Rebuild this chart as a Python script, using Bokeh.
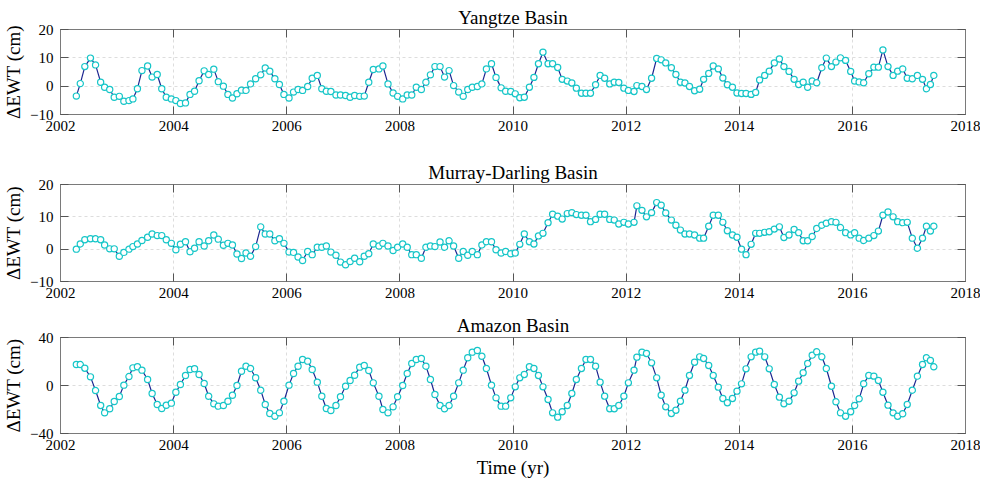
from bokeh.plotting import figure
from bokeh.layouts import column
from bokeh.models import LinearAxis, FixedTicker, Range1d
from bokeh.embed import file_html
from bokeh.resources import INLINE

# ---------------- data ----------------
time_yr = [
    2002.28, 2002.35, 2002.43, 2002.53, 2002.62, 2002.71, 2002.78, 2002.87, 2002.95, 2003.04,
    2003.12, 2003.21, 2003.28, 2003.36, 2003.44, 2003.54, 2003.62, 2003.71, 2003.79, 2003.87,
    2003.96, 2004.04, 2004.12, 2004.21, 2004.29, 2004.37, 2004.45, 2004.54, 2004.62, 2004.71,
    2004.79, 2004.88, 2004.96, 2005.04, 2005.12, 2005.20, 2005.28, 2005.36, 2005.45, 2005.54,
    2005.62, 2005.70, 2005.79, 2005.87, 2005.95, 2006.04, 2006.12, 2006.20, 2006.28, 2006.37,
    2006.45, 2006.54, 2006.62, 2006.70, 2006.78, 2006.87, 2006.95, 2007.04, 2007.12, 2007.20,
    2007.29, 2007.37, 2007.45, 2007.53, 2007.63,
    2007.70, 2007.79, 2007.88, 2007.96, 2008.05, 2008.13, 2008.21, 2008.29, 2008.38, 2008.46,
    2008.54, 2008.62, 2008.71, 2008.79, 2008.87, 2008.95, 2009.04, 2009.12, 2009.20, 2009.28,
    2009.37, 2009.45, 2009.53, 2009.62, 2009.70, 2009.79, 2009.87, 2009.96, 2010.04, 2010.12,
    2010.20, 2010.29, 2010.37, 2010.45, 2010.53, 2010.62, 2010.70, 2010.79, 2010.87, 2010.96,
    2011.04, 2011.12, 2011.21, 2011.29, 2011.37, 2011.46, 2011.54, 2011.62, 2011.71, 2011.79,
    2011.87, 2011.96, 2012.04, 2012.14, 2012.19, 2012.28, 2012.36, 2012.45, 2012.54, 2012.62,
    2012.70, 2012.80, 2012.88, 2012.96, 2013.04, 2013.12,
    2013.21, 2013.30, 2013.37, 2013.46, 2013.54, 2013.63, 2013.71, 2013.79, 2013.88, 2013.96,
    2014.04, 2014.12, 2014.21, 2014.29, 2014.36, 2014.45, 2014.53, 2014.62, 2014.71, 2014.79,
    2014.88, 2014.97, 2015.05, 2015.13, 2015.21, 2015.29, 2015.37, 2015.46, 2015.54, 2015.63,
    2015.71, 2015.79, 2015.88, 2015.97, 2016.04, 2016.12, 2016.20, 2016.29, 2016.38, 2016.46,
    2016.54, 2016.63, 2016.72, 2016.80, 2016.89, 2016.97, 2017.06, 2017.15, 2017.24, 2017.31,
    2017.38, 2017.44,
]

yangtze_cm = [
    -3.5, 0.9, 6.9, 9.9, 7.5, 1.4, -0.4, -1.2, -3.9, -3.6,
    -5.3, -5.1, -4.5, -0.9, 5.5, 7.1, 3.2, 4.1, -0.9, -3.9,
    -4.5, -5.1, -6.1, -5.9, -2.9, -1.8, 1.9, 5.4, 4.1, 6.0,
    1.6, 0.0, -2.9, -4.2, -2.7, -1.4, -1.5, 0.8, 2.6, 4.0,
    6.4, 5.3, 2.6, 0.6, -2.9, -4.2, -2.1, -1.2, -1.5, -0.1,
    2.8, 3.8, -0.9, -1.8, -1.9, -3.1, -3.1, -3.3, -3.9, -3.3,
    -3.6, -3.5, 1.4, 5.9, 6.1,
    7.1, 0.8, -2.4, -3.6, -4.5, -3.1, -3.1, -0.4, -1.2, 1.4,
    4.0, 6.9, 6.9, 3.2, 5.5, 0.2, -2.1, -3.6, -1.2, -0.4,
    -0.1, 0.8, 6.1, 7.9, 3.1, -0.6, -1.8, -1.9, -2.7, -4.1,
    -3.9, -0.4, 3.1, 7.9, 12.0, 7.9, 7.9, 6.6, 2.4, 1.8,
    1.1, -0.7, -2.5, -2.5, -2.5, 0.5, 3.8, 2.8, 0.8, 1.4,
    1.3, -0.7, -1.5, -1.9, 0.2, -0.1, -1.2, 2.8, 9.8, 9.3,
    8.2, 6.5, 4.1, 1.4, 1.1, -0.1,
    -1.6, -1.1, 2.4, 4.5, 7.1, 6.1, 2.9, 0.5, -0.4, -2.4,
    -2.6, -2.6, -2.9, -2.2, 2.2, 3.8, 5.3, 8.2, 9.6, 6.9,
    5.2, 2.4, 0.6, 1.4, -0.4, 1.8, 1.2, 6.5, 9.9, 6.9,
    8.5, 10.0, 9.1, 5.2, 1.8, 1.5, 1.2, 4.4, 6.7, 6.7,
    12.8, 6.9, 3.8, 5.3, 6.1, 2.8, 2.6, 3.8, 2.4, -0.9,
    0.6, 3.8,
]

murray_darling_cm = [
    0.0, 1.6, 2.9, 3.2, 3.2, 2.9, 1.3, 0.1, 0.1, -2.2,
    -1.0, 0.0, 0.8, 1.6, 2.7, 3.7, 4.7, 4.2, 4.2, 2.9,
    1.8, -0.2, 1.5, 2.3, -0.8, 0.3, 2.3, 1.0, 2.6, 4.4,
    3.1, 1.2, 1.8, 1.3, -1.5, -2.9, -1.2, -2.2, 0.8, 6.9,
    4.7, 4.7, 2.6, 3.2, 1.8, -0.9, -1.0, -2.4, -3.5, -0.7,
    -1.7, 0.6, 0.6, 1.0, -0.9, -1.9, -4.0, -4.8, -3.8, -2.8,
    -3.9, -2.2, -1.4, 1.6, 1.0,
    1.8, 1.0, -0.4, 0.6, 1.6, 0.6, -1.7, -1.7, -2.8, 0.6,
    1.0, 0.8, 2.2, 0.6, 2.6, 1.0, -2.8, -0.7, -1.9, -0.7,
    -1.7, 1.3, 2.3, 2.3, -0.2, -1.2, -0.7, -1.4, -1.2, 1.5,
    4.7, 2.3, 1.6, 4.1, 4.9, 8.2, 10.8, 10.2, 9.3, 11.0,
    11.3, 10.7, 10.5, 10.5, 8.5, 9.2, 10.8, 10.8, 9.2, 9.0,
    7.8, 8.3, 7.8, 8.3, 13.4, 12.0, 10.0, 11.3, 14.4, 13.6,
    11.2, 9.0, 7.4, 5.9, 4.7, 4.7,
    4.4, 3.4, 3.4, 7.1, 10.5, 10.5, 8.3, 5.7, 4.4, 3.7,
    0.0, -1.7, 1.5, 4.9, 4.9, 5.2, 5.4, 6.2, 6.9, 3.6,
    4.4, 6.1, 5.1, 2.6, 2.6, 3.9, 6.4, 7.4, 8.0, 8.5,
    8.3, 6.7, 5.1, 4.4, 5.1, 3.4, 2.7, 3.4, 4.2, 5.6,
    10.5, 11.5, 10.0, 8.5, 8.2, 8.3, 3.4, 0.3, 3.4, 7.1,
    5.6, 7.1,
]

amazon_cm = [
    17.5, 17.5, 14.4, 7.2, -4.2, -16.7, -22.8, -19.4, -13.3, -9.2,
    0.3, 7.5, 14.7, 15.6, 12.8, 5.0, -6.7, -15.8, -19.2, -16.4,
    -14.7, -5.6, 0.8, 8.3, 13.3, 13.9, 9.2, 1.7, -8.9, -15.3,
    -17.2, -16.7, -13.1, -8.1, 0.0, 11.9, 16.1, 14.2, 6.4, -3.9,
    -15.8, -23.3, -25.6, -22.8, -13.1, 0.3, 10.0, 16.1, 21.7, 20.3,
    13.3, 2.8, -8.9, -19.2, -20.8, -16.7, -9.4, -0.6, 4.2, 8.6,
    15.3, 16.7, 12.5, 2.2, -8.9,
    -20.0, -22.8, -17.8, -9.4, 0.0, 10.0, 18.3, 21.7, 22.5, 16.1,
    5.0, -7.5, -16.7, -19.4, -16.7, -8.9, 2.2, 12.8, 23.1, 27.8,
    29.2, 24.4, 14.2, 0.3, -10.3, -17.2, -17.2, -10.3, -1.1, 6.4,
    9.2, 15.6, 14.2, 8.3, -1.1, -11.7, -22.8, -26.4, -21.9, -16.7,
    -6.7, 5.0, 14.2, 21.7, 21.7, 16.1, 2.8, -8.9, -19.4, -19.4,
    -16.7, -8.9, 2.2, 12.8, 23.6, 27.8, 26.7, 18.9, 6.4, -8.1,
    -17.8, -23.3, -20.6, -13.1, -3.9, 8.3,
    19.4, 23.9, 22.5, 16.7, 8.3, -1.4, -10.8, -14.4, -10.8, -4.7,
    1.4, 13.9, 23.9, 27.8, 28.6, 23.9, 13.9, 0.8, -9.7, -15.3,
    -13.1, -6.1, 3.6, 10.6, 18.3, 25.3, 28.1, 23.9, 14.2, -0.6,
    -13.6, -22.8, -25.6, -21.9, -16.7, -11.1, 1.4, 8.3, 7.8, 4.2,
    -5.6, -16.4, -22.8, -25.6, -23.6, -15.8, -3.9, 7.8, 17.5, 23.1,
    20.8, 15.6,
]

x_ticks = [2002, 2004, 2006, 2008, 2010, 2012, 2014, 2016, 2018]
titles = ["Yangtze Basin", "Murray-Darling Basin", "Amazon Basin"]
y_ticks_small = [-10, 0, 10, 20]
y_ticks_amazon = [-40, 0, 40]

# ---------------- style ----------------
FONT = "Liberation Serif"
BOX = "#7a7a7a"
LINE = "#1c2590"
MARK = "#17c6c8"
GRID = "#dddddd"


def make_panel(title, values, y_lo, y_hi, yticks, frame_h, top, bottom, xlabel=None):
    p = figure(frame_width=905, frame_height=frame_h, output_backend="svg",
               toolbar_location=None,
               x_range=Range1d(2002, 2018), y_range=Range1d(y_lo, y_hi),
               min_border_left=52, min_border_right=15,
               min_border_top=top, min_border_bottom=bottom,
               background_fill_color="white", border_fill_color="white")
    p.outline_line_color = BOX
    p.outline_line_width = 1

    p.title.text = title
    p.title.align = "center"
    p.title.text_font = FONT
    p.title.text_font_size = "19px"
    p.title.text_font_style = "normal"
    p.title.text_color = "black"
    p.title.standoff = 4

    xt = FixedTicker(ticks=x_ticks)
    yt = FixedTicker(ticks=yticks)

    for ax, tk in ((p.xaxis[0], xt), (p.yaxis[0], yt)):
        ax.ticker = tk
        ax.major_tick_in = 8
        ax.major_tick_out = 0
        ax.minor_tick_line_color = None
        ax.axis_line_color = BOX
        ax.major_tick_line_color = "#555555"
        ax.major_label_text_font = FONT
        ax.major_label_text_font_size = "15px"
        ax.major_label_text_color = "black"
        ax.axis_label_text_font = FONT
        ax.axis_label_text_font_size = "19px"
        ax.axis_label_text_font_style = "normal"
        ax.axis_label_text_color = "black"
    p.xaxis[0].major_label_standoff = 6
    p.yaxis[0].major_label_standoff = 7
    p.yaxis[0].axis_label = "\u0394EWT (cm)"
    p.yaxis[0].axis_label_standoff = 3
    if xlabel:
        p.xaxis[0].axis_label = xlabel
        p.xaxis[0].axis_label_standoff = 4

    # inward ticks on the opposite sides (box style); their labels are not drawn
    for loc, tk in (("right", yt), ("above", xt)):
        ax = LinearAxis(ticker=tk, major_tick_in=8, major_tick_out=0,
                        major_label_text_font_size="1px", major_label_text_color=None,
                        major_label_standoff=0,
                        minor_tick_line_color=None, axis_line_color=BOX,
                        major_tick_line_color="#555555")
        p.add_layout(ax, loc)

    p.xgrid.ticker = xt
    p.ygrid.ticker = yt
    for g in (p.xgrid[0], p.ygrid[0]):
        g.grid_line_color = GRID
        g.grid_line_dash = "3 3"
        g.grid_line_width = 1

    p.line(time_yr, values, line_color=LINE, line_width=1.2)
    p.scatter(time_yr, values, marker="circle", size=6.2, line_color=MARK,
              line_width=1.2, fill_color="white")
    return p


p1 = make_panel(titles[0], yangtze_cm, -10, 20, y_ticks_small, 85, 29, 36)
p2 = make_panel(titles[1], murray_darling_cm, -10, 20, y_ticks_small, 97, 34, 24)
p3 = make_panel(titles[2], amazon_cm, -40, 40, y_ticks_amazon, 96, 32, 42, xlabel="Time (yr)")

layout = column(p1, p2, p3, spacing=0)

with open("out.html", "w") as f:
    f.write(file_html(layout, INLINE))
